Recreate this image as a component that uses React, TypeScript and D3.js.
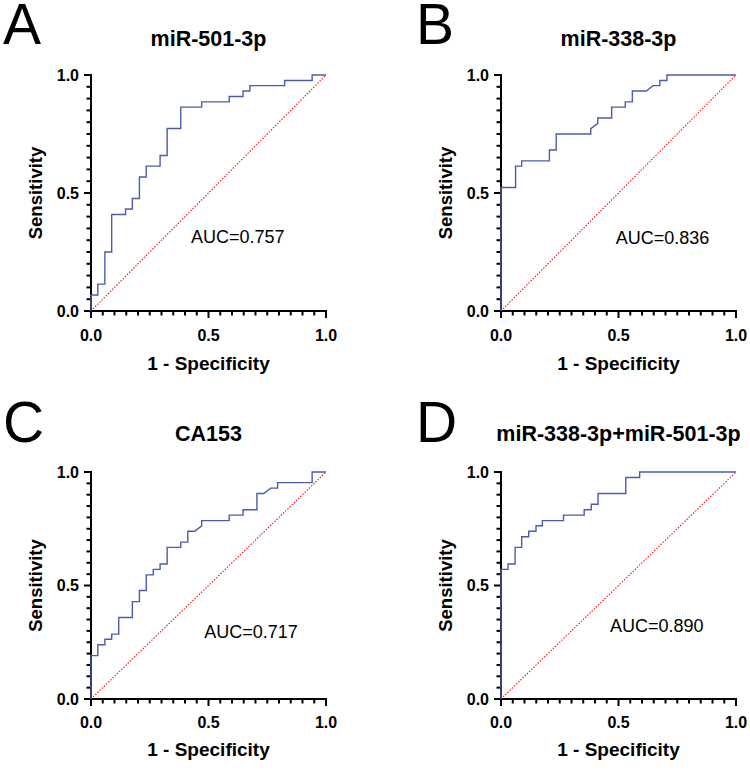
import React from "react";
import * as d3 from "d3";

const panelLetters = ["A", "B", "C", "D"];
const panelTitles = ["miR-501-3p", "miR-338-3p", "CA153", "miR-338-3p+miR-501-3p"];
const aucLabels = ["AUC=0.757", "AUC=0.836", "AUC=0.717", "AUC=0.890"];
const tickValues = [0, 0.5, 1];
const tickLabels = ["0.0", "0.5", "1.0"];
const xAxisTitle = "1 - Specificity";
const yAxisTitle = "Sensitivity";

// ROC vertices (1 - specificity, sensitivity)
const fprA = [0, 0, 0.029, 0.029, 0.059, 0.059, 0.088, 0.088, 0.147, 0.147, 0.176, 0.176, 0.206, 0.206, 0.235, 0.235, 0.294, 0.294, 0.324, 0.324, 0.382, 0.382, 0.471, 0.471, 0.588, 0.588, 0.647, 0.647, 0.676, 0.676, 0.824, 0.824, 0.941, 0.941, 1];
const sensA = [0, 0.068, 0.068, 0.114, 0.114, 0.25, 0.25, 0.409, 0.409, 0.432, 0.432, 0.477, 0.477, 0.568, 0.568, 0.614, 0.614, 0.659, 0.659, 0.773, 0.773, 0.864, 0.864, 0.886, 0.886, 0.909, 0.909, 0.932, 0.932, 0.955, 0.955, 0.977, 0.977, 1, 1];

const fprB = [0, 0, 0.062, 0.062, 0.088, 0.088, 0.206, 0.206, 0.235, 0.235, 0.382, 0.382, 0.412, 0.412, 0.471, 0.471, 0.529, 0.529, 0.559, 0.559, 0.618, 0.647, 0.676, 0.676, 0.706, 0.706, 1];
const sensB = [0, 0.523, 0.523, 0.614, 0.614, 0.636, 0.636, 0.682, 0.682, 0.75, 0.75, 0.773, 0.795, 0.818, 0.818, 0.864, 0.864, 0.886, 0.886, 0.932, 0.932, 0.955, 0.955, 0.977, 0.977, 1, 1];

const fprC = [0, 0, 0.029, 0.029, 0.059, 0.059, 0.088, 0.088, 0.118, 0.118, 0.176, 0.176, 0.206, 0.206, 0.235, 0.235, 0.265, 0.265, 0.294, 0.294, 0.324, 0.324, 0.382, 0.382, 0.412, 0.412, 0.441, 0.471, 0.471, 0.588, 0.588, 0.647, 0.647, 0.706, 0.706, 0.735, 0.765, 0.794, 0.794, 0.941, 0.941, 1];
const sensC = [0, 0.191, 0.191, 0.239, 0.239, 0.263, 0.263, 0.286, 0.286, 0.359, 0.359, 0.429, 0.429, 0.478, 0.478, 0.547, 0.547, 0.571, 0.571, 0.595, 0.595, 0.668, 0.668, 0.691, 0.691, 0.739, 0.739, 0.763, 0.786, 0.786, 0.81, 0.81, 0.834, 0.834, 0.905, 0.905, 0.929, 0.929, 0.953, 0.953, 1, 1];

const fprD = [0, 0, 0.03, 0.03, 0.06, 0.06, 0.088, 0.088, 0.118, 0.118, 0.149, 0.149, 0.176, 0.176, 0.266, 0.266, 0.354, 0.354, 0.384, 0.384, 0.413, 0.413, 0.531, 0.531, 0.59, 0.59, 1];
const sensD = [0, 0.571, 0.571, 0.595, 0.595, 0.668, 0.668, 0.715, 0.715, 0.739, 0.739, 0.763, 0.763, 0.786, 0.786, 0.81, 0.81, 0.834, 0.834, 0.858, 0.858, 0.905, 0.905, 0.976, 0.976, 1, 1];

const fprSeries = [fprA, fprB, fprC, fprD];
const sensSeries = [sensA, sensB, sensC, sensD];

const FONT = "Arial, 'Liberation Sans', Helvetica, sans-serif";
const CURVE = "#4b5bb0";

const layouts = [
  { left: 91, top: 75, w: 235, h: 236, aucX: 0.425, aucY: 0.29, letterX: 3, letterY: 44, titleY: 46, lab: 30, ttl: 59 },
  { left: 501, top: 75, w: 235, h: 236, aucX: 0.488, aucY: 0.284, letterX: 416, letterY: 44, titleY: 46, lab: 30, ttl: 59 },
  { left: 91, top: 472, w: 235, h: 227, aucX: 0.482, aucY: 0.27, letterX: 3, letterY: 442, titleY: 441, lab: 29, ttl: 57 },
  { left: 501, top: 472, w: 235, h: 227, aucX: 0.464, aucY: 0.293, letterX: 416, letterY: 442, titleY: 441, lab: 29, ttl: 57 },
];

function Panel({ i }: { i: number }) {
  const L = layouts[i];
  const x = d3.scaleLinear().domain([0, 1]).range([L.left, L.left + L.w]);
  const y = d3.scaleLinear().domain([0, 1]).range([L.top + L.h, L.top]);
  const pts: [number, number][] = fprSeries[i].map((f, k) => [f, sensSeries[i][k]]);
  const line = d3
    .line<[number, number]>()
    .x((d) => x(d[0]))
    .y((d) => y(d[1]));
  const minor = x.ticks(20);
  const x0 = x(0);
  const y0 = y(0);
  const cx = (x(0) + x(1)) / 2;
  const cy = (y(0) + y(1)) / 2;
  return (
    <g>
      <text x={L.letterX} y={L.letterY} fontFamily={FONT} fontSize={57} fill="#000">
        {panelLetters[i]}
      </text>
      <text x={cx} y={L.titleY} fontFamily={FONT} fontSize={21.5} fontWeight="bold" textAnchor="middle" fill="#000">
        {panelTitles[i]}
      </text>
      <line x1={x(0)} y1={y(0)} x2={x(1)} y2={y(1)} stroke="#ff2020" strokeWidth={1.2} strokeDasharray="1.5,1.5" />
      <line x1={x0} y1={y0} x2={x(1)} y2={y0} stroke="#000" strokeWidth={2} strokeLinecap="square" />
      <line x1={x0} y1={y0} x2={x0} y2={y(1)} stroke="#000" strokeWidth={2} strokeLinecap="square" />
      {minor.map((t, k) => {
        const major = tickValues.some((v) => Math.abs(v - t) < 1e-9);
        const len = major ? 7 : 4.5;
        return (
          <g key={k}>
            <line x1={x(t)} y1={y0} x2={x(t)} y2={y0 + len} stroke="#000" strokeWidth={2} />
            <line x1={x0} y1={y(t)} x2={x0 - len} y2={y(t)} stroke="#000" strokeWidth={2} />
          </g>
        );
      })}
      {tickValues.map((t, k) => (
        <g key={"l" + k}>
          <text x={x(t)} y={y0 + L.lab} fontFamily={FONT} fontSize={16} fontWeight="bold" textAnchor="middle" fill="#000">
            {tickLabels[k]}
          </text>
          <text x={x0 - 12} y={y(t) + 5.7} fontFamily={FONT} fontSize={16} fontWeight="bold" textAnchor="end" fill="#000">
            {tickLabels[k]}
          </text>
        </g>
      ))}
      <text x={cx} y={y0 + L.ttl} fontFamily={FONT} fontSize={19} fontWeight="bold" textAnchor="middle" fill="#000">
        {xAxisTitle}
      </text>
      <text
        transform={`translate(${x0 - 49},${cy}) rotate(-90)`}
        fontFamily={FONT}
        fontSize={18.5}
        fontWeight="bold"
        textAnchor="middle"
        fill="#000"
      >
        {yAxisTitle}
      </text>
      <path d={line(pts) || ""} fill="none" stroke={CURVE} strokeWidth={1.4} />
      <text x={x(L.aucX)} y={y(L.aucY)} fontFamily={FONT} fontSize={18} fill="#000">
        {aucLabels[i]}
      </text>
    </g>
  );
}

export default function App() {
  return (
    <svg
      width={750}
      height={772}
      viewBox="0 0 750 772"
      style={{ position: "absolute", left: 0, top: 0, background: "#fff" }}
    >
      <rect x={0} y={0} width={750} height={772} fill="#fff" />
      {[0, 1, 2, 3].map((i) => (
        <Panel key={i} i={i} />
      ))}
    </svg>
  );
}
